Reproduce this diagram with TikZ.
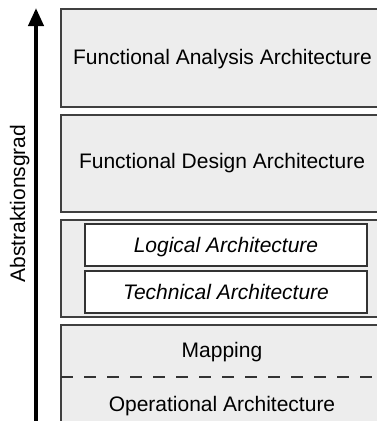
\documentclass[tikz,border=0pt]{standalone}
\usepackage{fontspec}
\setmainfont{Liberation Sans}
\usetikzlibrary{arrows.meta}
\begin{document}
\begin{tikzpicture}[x=1pt,y=-1pt,
  layer/.style={draw=black!75, line width=1.3pt, fill=black!7},
  innerbox/.style={draw=black!80, line width=1.3pt, fill=white},
  lbl/.style={font=\fontsize{21}{25}\selectfont, anchor=base, inner sep=0pt},
  sep/.style={draw=black!80, line width=1.3pt, dash pattern=on 12pt off 11pt}]
\useasboundingbox (0,0) rectangle (377,421);
\clip (0,0) rectangle (377,421);

% stacked layers
\draw[layer] (61,9)   rectangle (385,107);
\draw[layer] (61,115) rectangle (385,212);
\draw[layer] (61,220) rectangle (385,317);
\draw[layer] (61,325) rectangle (385,430);

% nested boxes of the third layer
\draw[innerbox] (85,224) rectangle (367,266);
\draw[innerbox] (85,271) rectangle (367,313);

% divider inside the lowest layer
\coordinate (dl) at (61,377);
\coordinate (dr) at (385,377);
\draw[sep] (dl) -- (dr);

% layer labels
\node[lbl] (faa) at (222.5,64.5)  {Functional Analysis Architecture};
\node[lbl] (fda) at (222,168.5) {Functional Design Architecture};
\node[lbl] (la)  at (226,252) {\itshape Logical Architecture};
\node[lbl] (ta)  at (226,299) {\itshape Technical Architecture};
\node[lbl] (map) at (222,357) {Mapping};
\node[lbl] (oa)  at (222,411.5) {Operational Architecture};

% abstraction axis
\coordinate (abot) at (36,425);
\coordinate (atop) at (36,8);
\draw[line width=4pt, -{Triangle[length=18pt,width=15pt]}] (abot) -- (atop);
\node[lbl, rotate=90] (axis) at (25,203.5) {Abstraktionsgrad};
\end{tikzpicture}
\end{document}
